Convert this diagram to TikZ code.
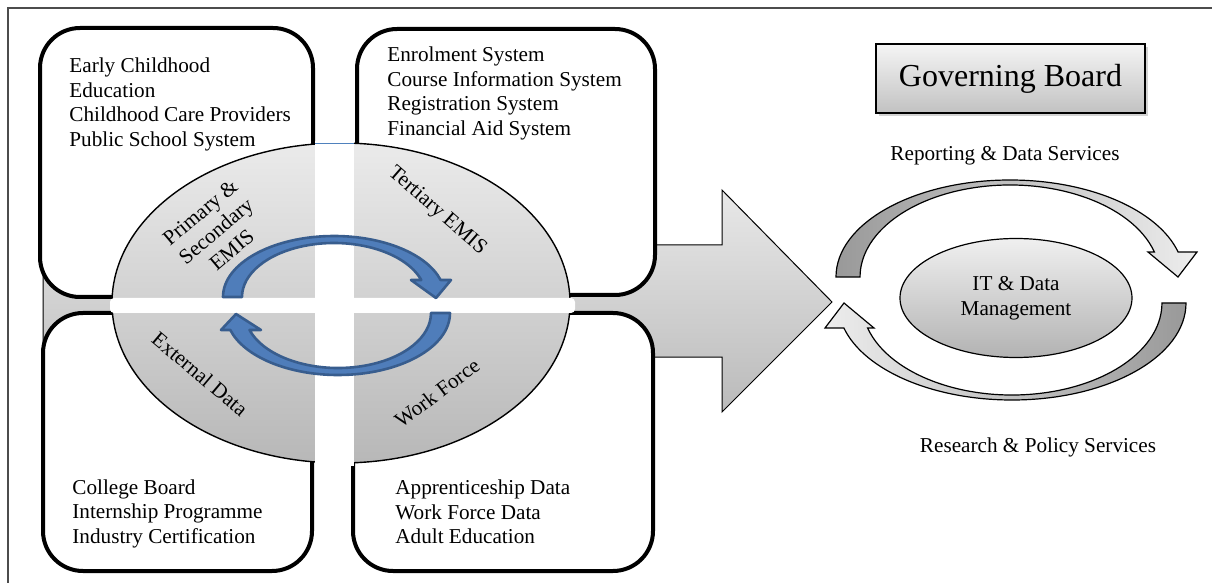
\documentclass[tikz,border=0pt]{standalone}
\usepackage{fontspec}
\setmainfont{Liberation Serif}
\usetikzlibrary{positioning, shapes.geometric, shadows}

\definecolor{cycleblue}{RGB}{79,125,186}
\definecolor{cycleedge}{RGB}{56,93,142}
\definecolor{gapblue}{RGB}{79,129,189}

\newcommand{\diagfont}{\fontsize{10.6}{12.25}\selectfont}

\begin{document}
\begin{tikzpicture}[x=0.5pt, y=-0.5pt,
    infobox/.style={draw, line width=2pt, rounded corners=20pt, fill=white},
    boxtext/.style={anchor=west, align=left, inner sep=0pt, font=\diagfont},
    quadtext/.style={align=center, inner sep=0pt, font=\diagfont},
    bluecycle/.style={fill=cycleblue, draw=cycleedge, line width=1.3pt, line join=round},
    graycycle/.style={draw, line width=0.6pt}]
  \useasboundingbox (0,0) rectangle (1212,583);
  % frame
  \draw[black!70, line width=0.8pt] (1212,8) -- (8,8) -- (8,583);

  % big arrow behind the quadrants
  \draw[top color=black!9, bottom color=black!27, line width=0.5pt]
    (43,245) -- (722,245) -- (722,190) -- (832,302) -- (722,412) -- (722,357) -- (43,357) -- cycle;

  % source boxes
  \draw[infobox] (40,28) rectangle (313,297);
  \draw[infobox] (357,29) rectangle (655,295);
  \draw[infobox] (43,313) rectangle (312,571);
  \draw[infobox] (353,313) rectangle (653,571);

  % EMIS ellipse, cut in quarters
  \draw[top color=black!8, bottom color=black!28, line width=0.7pt]
    (341,303) ellipse [x radius=229, y radius=160];
  \fill[white] (315,141) rectangle (354,466);
  \fill[white, rounded corners=2pt] (110,298) rectangle (575,313);
  \draw[gapblue, line width=0.6pt] (315,143.5) -- (354,143.5);

  % inner cycle
  \draw[bluecycle] (223,297) arc[start angle=180, end angle=343.82, x radius=111, y radius=61]
    -- (451,280) -- (436,298) -- (411,280) -- (421.3,280)
    arc[start angle=341.65, end angle=180, x radius=92, y radius=54] -- cycle;
  \draw[bluecycle] (450,313) arc[start angle=0, end angle=164.09, x radius=112, y radius=62]
    -- (221,330) -- (236,314) -- (261,330) -- (249.55,330)
    arc[start angle=162, end angle=0, x radius=93, y radius=55] -- cycle;

  % box texts
  \node[boxtext] (early) at (69,104.5) {Early Childhood\\Education\\Childhood Care Providers\\Public School System};
  \node[boxtext] (tertsys) at (387,93.5) {Enrolment System\\Course Information System\\Registration System\\Financial Aid System};
  \node[boxtext] (external) at (72,513.5) {College Board\\Internship Programme\\Industry Certification};
  \node[boxtext] (workdata) at (395,512) {Apprenticeship Data\\Work Force Data\\Adult Education};

  % quarter labels
  \node[quadtext, rotate=40] (primary) at (216,231) {Primary \&\\Secondary\\EMIS};
  \node[quadtext, rotate=-41] (tertiary) at (437,211) {Tertiary EMIS};
  \node[quadtext, rotate=-40] (extdata) at (200,374) {External Data};
  \node[quadtext, rotate=37] (workforce) at (437,393) {Work Force};

  % governance side
  \node[draw, line width=0.8pt, minimum width=134.5pt, minimum height=34.5pt,
    top color=black!4, bottom color=black!24,
    drop shadow={shadow xshift=1.5pt, shadow yshift=-1.5pt, opacity=0.35},
    font=\fontsize{16}{19}\selectfont] (board) at (1010.5,78.5) {Governing Board};
  \node[font=\diagfont] (reporting) at (1005,155.5) {Reporting \& Data Services};
  \node[font=\diagfont] (research) at (1038,447) {Research \& Policy Services};
  \node[ellipse, draw, line width=0.6pt, minimum width=116pt, minimum height=59.5pt,
    top color=black!6, bottom color=black!30, align=center, inner sep=0pt,
    font=\diagfont] (itdm) at (1016,298) {IT \& Data\\Management};

  \draw[graycycle, left color=black!40, right color=black!7]
    (836,277) arc[start angle=180, end angle=345.06, x radius=174, y radius=97]
    -- (1197,252) -- (1178,277) -- (1148,252) -- (1154.4,252)
    arc[start angle=344.23, end angle=180, x radius=150, y radius=92] -- cycle;
  \draw[graycycle, left color=black!7, right color=black!40]
    (1186,303) arc[start angle=0, end angle=165.06, x radius=174, y radius=97]
    -- (825,328) -- (844,303) -- (874,328) -- (867.6,328)
    arc[start angle=164.23, end angle=0, x radius=150, y radius=92] -- cycle;
\end{tikzpicture}
\end{document}
